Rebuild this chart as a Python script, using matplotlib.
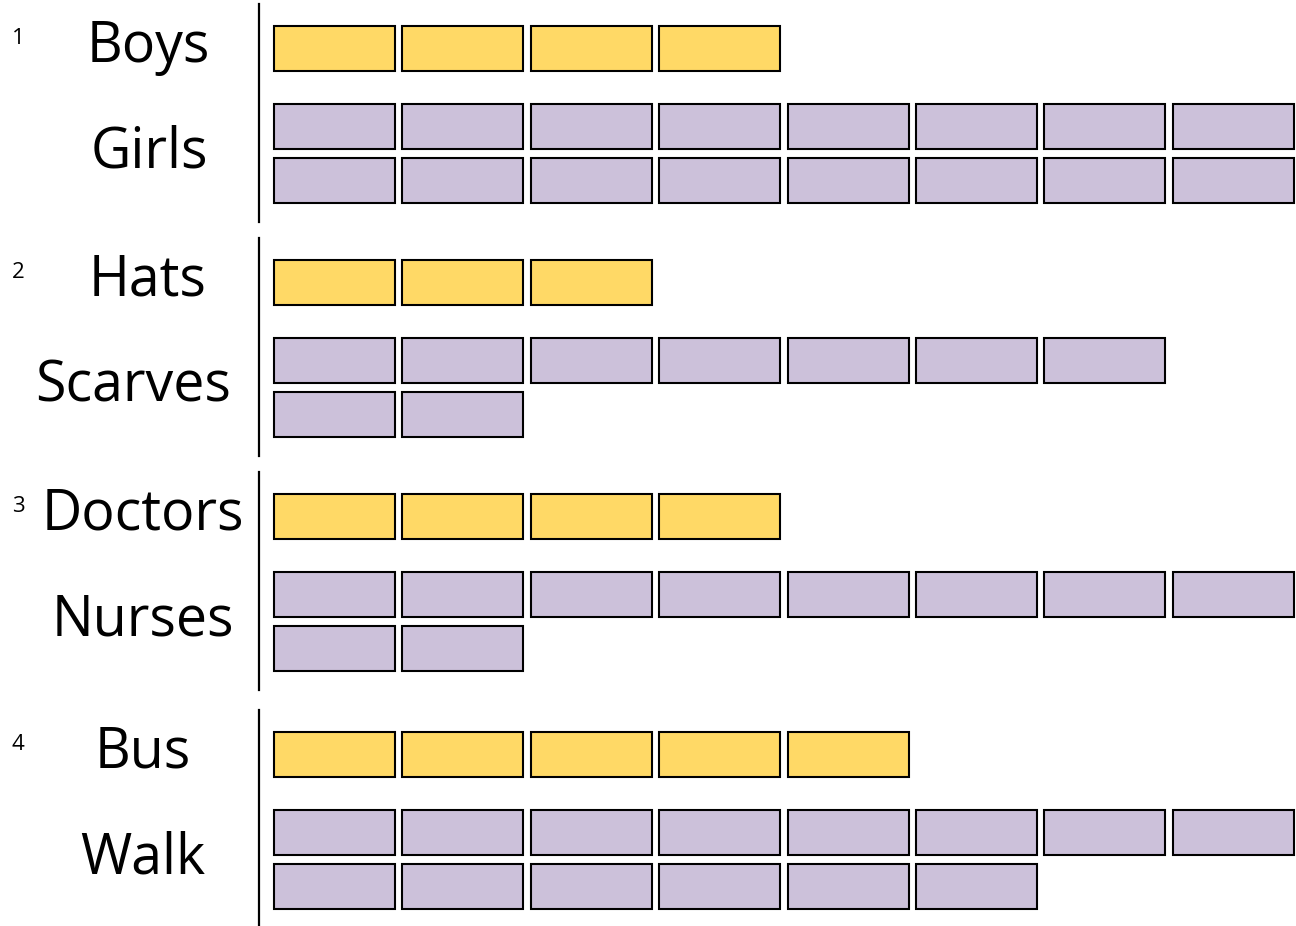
import matplotlib.pyplot as plt
from matplotlib.patches import Rectangle

# data: one block per unit, split into rows as in the picture
group_nums = ['1', '2', '3', '4']
top_labels = ['Boys', 'Hats', 'Doctors', 'Bus']
bottom_labels = ['Girls', 'Scarves', 'Nurses', 'Walk']
top_counts = [4, 3, 4, 5]
bottom_rows = [[8, 8], [7, 2], [8, 2], [8, 6]]

YELLOW = '#FFD966'
PURPLE = '#CCC1DA'

# layout in pixels
X0 = 274
BW, BH = 121, 45
XPITCH = 128.4
ROWPITCH = 54
group_tops = [26, 260, 494, 732]
top_label_x = [148, 148, 143, 143]
bottom_label_x = [149, 133, 143, 143]


def draw_row(ax, n, y, color):
    for c in range(n):
        ax.add_patch(Rectangle((X0 + c * XPITCH, y), BW, BH,
                               facecolor=color, edgecolor='black', linewidth=1.5))


fig = plt.figure(figsize=(12.96, 9.26), dpi=100)
ax = fig.add_axes([0, 0, 1, 1])
ax.set_xlim(0, 1296)
ax.set_ylim(926, 0)
ax.axis('off')

for i in range(len(top_labels)):
    y_top = group_tops[i]
    y_bot = y_top + 78
    draw_row(ax, top_counts[i], y_top, YELLOW)
    for r, n in enumerate(bottom_rows[i]):
        draw_row(ax, n, y_bot + r * ROWPITCH, PURPLE)

    ax.plot([259, 259], [y_top - 22, y_bot + 118], color='black', lw=1.6)

    ax.text(18, y_top + 13, group_nums[i], ha='center', va='center',
            fontsize=16, family='Open Sans')
    ax.text(top_label_x[i], y_top + BH / 2 - 1, top_labels[i], ha='center',
            va='center', fontsize=40, family='Open Sans')
    ax.text(bottom_label_x[i], y_bot + 50 - 1, bottom_labels[i], ha='center',
            va='center', fontsize=40, family='Open Sans')

fig.savefig('out.png', dpi=100)
